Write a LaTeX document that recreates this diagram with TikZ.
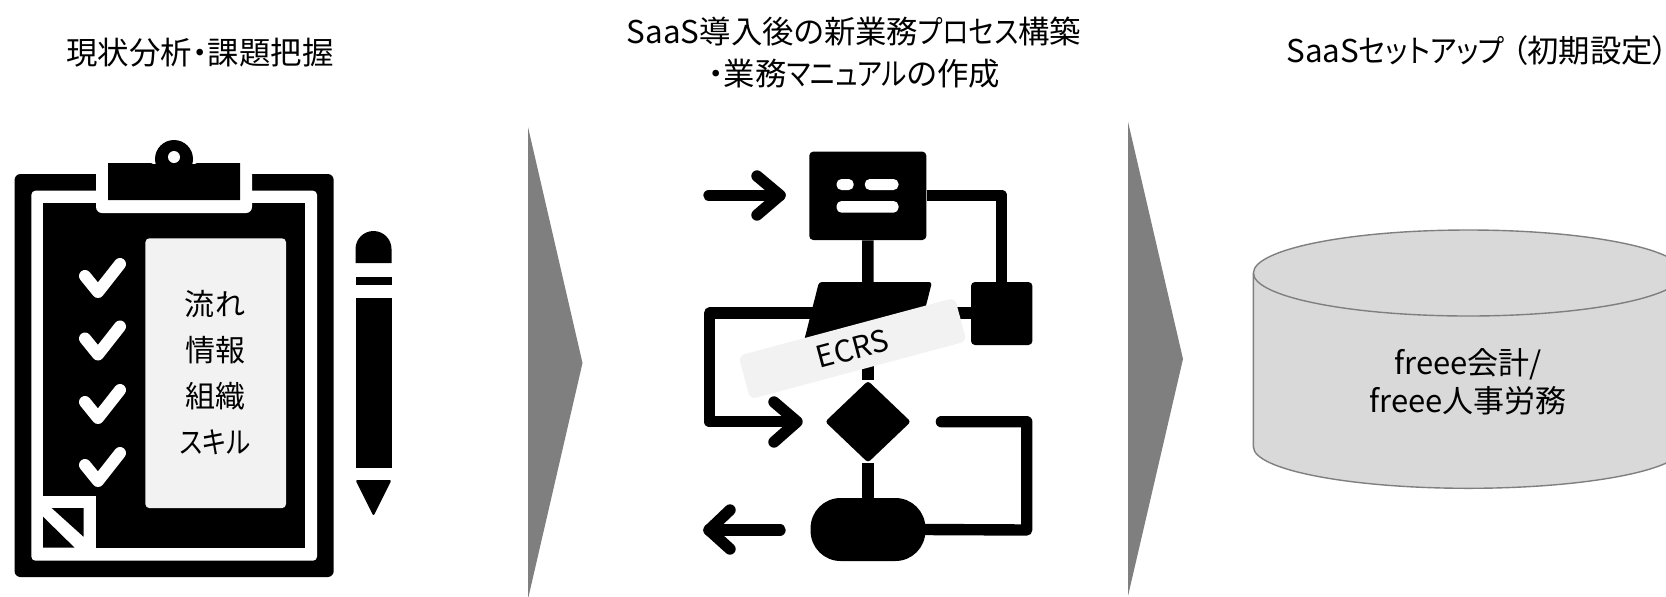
\documentclass[tikz,border=0pt]{standalone}
\usepackage{fontspec}
\usepackage{graphicx}
\usetikzlibrary{shapes.geometric}
\setmainfont[RawFeature=+palt]{Noto Sans CJK JP}
\newcommand{\narrowkana}[1]{\scalebox{0.85}[1]{#1}}
\definecolor{panelgray}{HTML}{F2F2F2}
\definecolor{arrowgray}{HTML}{7F7F7F}
\definecolor{cylgray}{HTML}{D9D9D9}
\tikzset{
  titletext/.style={font=\fontsize{15.7}{21}\selectfont,align=center,inner sep=0pt,text=black},
  bodytext/.style={font=\fontsize{15}{19}\selectfont,align=center,inner sep=0pt,text=black},
  ink/.style={fill=black,draw=none},
  hole/.style={fill=white,draw=none},
  bigarrow/.style={fill=arrowgray,draw=none},
  tick/.style={draw=white,line width=6pt,line cap=round,line join=round},
  flowline/.style={draw=black,line width=5.7pt,line join=round,line cap=butt},
  flowtip/.style={draw=black,line width=5.7pt,line join=round,line cap=round},
  flowbox/.style={fill=black,draw=none,inner sep=0pt,rounded corners=2pt}
}
\begin{document}
\begin{tikzpicture}[x=0.5pt,y=-0.5pt]
\useasboundingbox (0,0) rectangle (1666,596);
\clip (0,0) rectangle (1666,596);
% titles
\node[titletext] (t1) at (200,53) {現状分析・課題把握};
\node[titletext] (t2) at (854,53) {SaaS導入後の新業務\narrowkana{プロセス}構築\\・業務\narrowkana{マニュアル}の作成};
\node[titletext,anchor=west] (t3) at (1286,51) {SaaS\scalebox{0.9}[1]{セットアップ}\hspace{3.5pt}（初期設定）};
% clipboard
\fill[ink,rounded corners=3pt] (14.5,174) rectangle (333.7,577);
\fill[hole,rounded corners=2pt] (31.4,190.7) rectangle (317,560.7);
\fill[ink] (43,202.7) rectangle (305,547.7);
\fill[hole,rounded corners=3pt] (96,160) rectangle (252,213);
\fill[ink] (174,159) circle[radius=9.5pt];
\fill[ink] (153,164) -- (195,164) -- (197,163) -- (240,163) -- (240,200) -- (108,200) -- (108,163) -- (151,163) -- cycle;
\fill[hole] (174,157) circle[radius=3pt];
\node[fill=panelgray,inner sep=0pt,rounded corners=2pt,minimum width=70.3pt,minimum height=134.9pt] (panel) at (215.7,373.2) {};
\node[bodytext] at (215,304) {流れ};
\node[bodytext] at (215,350) {情報};
\node[bodytext] at (215,396) {組織};
\node[bodytext] at (215,442) {\narrowkana{スキル}};
\foreach \d in {0,62.5,126,189}{
  \draw[tick] (85,276+\d) -- (98,292+\d) -- (120,264+\d);
}
% folded corner
\fill[hole] (43,496) rectangle (95.7,548);
\fill[ink] (51.7,508) -- (83.5,508) -- (83.5,536.7) -- cycle;
\fill[ink] (43,516.7) -- (43,547.7) -- (74.6,547.7) -- cycle;
% pencil
\fill[ink] (355.5,263) -- (355.5,249) arc[start angle=180,end angle=360,x radius=18,y radius=18] -- (391.5,263) -- cycle;
\fill[ink] (355.5,276.7) rectangle (391.5,285);
\fill[ink] (355.5,298) rectangle (391.5,467.7);
\fill[ink,rounded corners=1pt] (355.5,480) -- (391.5,480) -- (373.5,516) -- cycle;
% big arrows
\fill[bigarrow] (528,127) -- (582.5,363) -- (528,599) -- cycle;
\fill[bigarrow] (1128,121.7) -- (1183,359) -- (1128,596) -- cycle;
% flow icon
\node[flowbox,minimum width=58.5pt,minimum height=44.2pt] (box) at (867.8,195.8) {};
\node[flowbox,minimum width=30.7pt,minimum height=31.5pt] (sq) at (1001.7,313.5) {};
\node[fill=black,draw=none,inner sep=0pt,shape=diamond,rounded corners=1.5pt,minimum width=43pt,minimum height=41pt] (dia) at (868,421.7) {};
\node[fill=black,draw=none,inner sep=0pt,rounded corners=15pt,minimum width=57.4pt,minimum height=31.5pt] (term) at (868,529.5) {};
\fill[hole,rounded corners=2.5pt] (836.5,179) rectangle (853.7,190);
\fill[hole,rounded corners=2.5pt] (864.8,179) rectangle (898.5,190);
\fill[hole,rounded corners=2.5pt] (836.5,201) rectangle (898.5,212.7);
\coordinate (para) at (868,313);
\fill[ink,rounded corners=1.5pt] (819,282) -- (932,282) -- (916,345) -- (803,345) -- cycle;
\coordinate (inS) at (709,195.3);
\coordinate (inE) at (780,195.3);
\coordinate (outS) at (780,530);
\coordinate (outE) at (709,530);
\coordinate (lft) at (709.5,313);
\coordinate (lftB) at (709.5,421.7);
\coordinate (inD) at (797,421.7);
\coordinate (rgt) at (1026.7,530);
\coordinate (rgtT) at (1026.7,421.7);
\coordinate (back) at (941.4,421.7);
\draw[flowtip] (inS) -- (inE);
\draw[flowtip] (757,176) -- (inE) -- (757,215);
\draw[flowtip] (outS) -- (outE);
\draw[flowtip] (730,510) -- (outE) -- (730,549);
\draw[flowline] (box.east |- inE) -| (sq.north);
\draw[flowline] (box.south) -- (para);
\draw[flowline] (para) -- (dia.north);
\draw[flowline] (dia.south) -- (term.north);
\draw[flowline] (para) -- (sq.west |- para);
\draw[flowline] (para) -- (lft) -- (lftB) -- (inD);
\draw[flowtip] (774,402) -- (inD) -- (774,442);
\draw[flowline,line cap=round] (term.east) -- (rgt) -- (rgtT) -- (back);
\node[fill=panelgray,inner sep=0pt,rounded corners=3pt,rotate=15,minimum width=112pt,minimum height=22.5pt,font=\fontsize{15}{18}\selectfont,text=black] (ecrs) at (852.5,348.5) {ECRS};
% cylinder
\draw[fill=cylgray,draw=arrowgray,line width=0.7pt] (1253.4,273) -- (1253.4,446.8) arc[start angle=180,end angle=0,x radius=215,y radius=41.5] -- (1683.4,273) arc[start angle=0,end angle=-180,x radius=215,y radius=43] -- cycle;
\draw[draw=arrowgray,line width=0.7pt] (1253.4,273) arc[start angle=180,end angle=0,x radius=215,y radius=43];
\node[bodytext,font=\fontsize{15.5}{19}\selectfont] (cyl) at (1468,382) {freee会計/\\freee人事労務};
\end{tikzpicture}
\end{document}
